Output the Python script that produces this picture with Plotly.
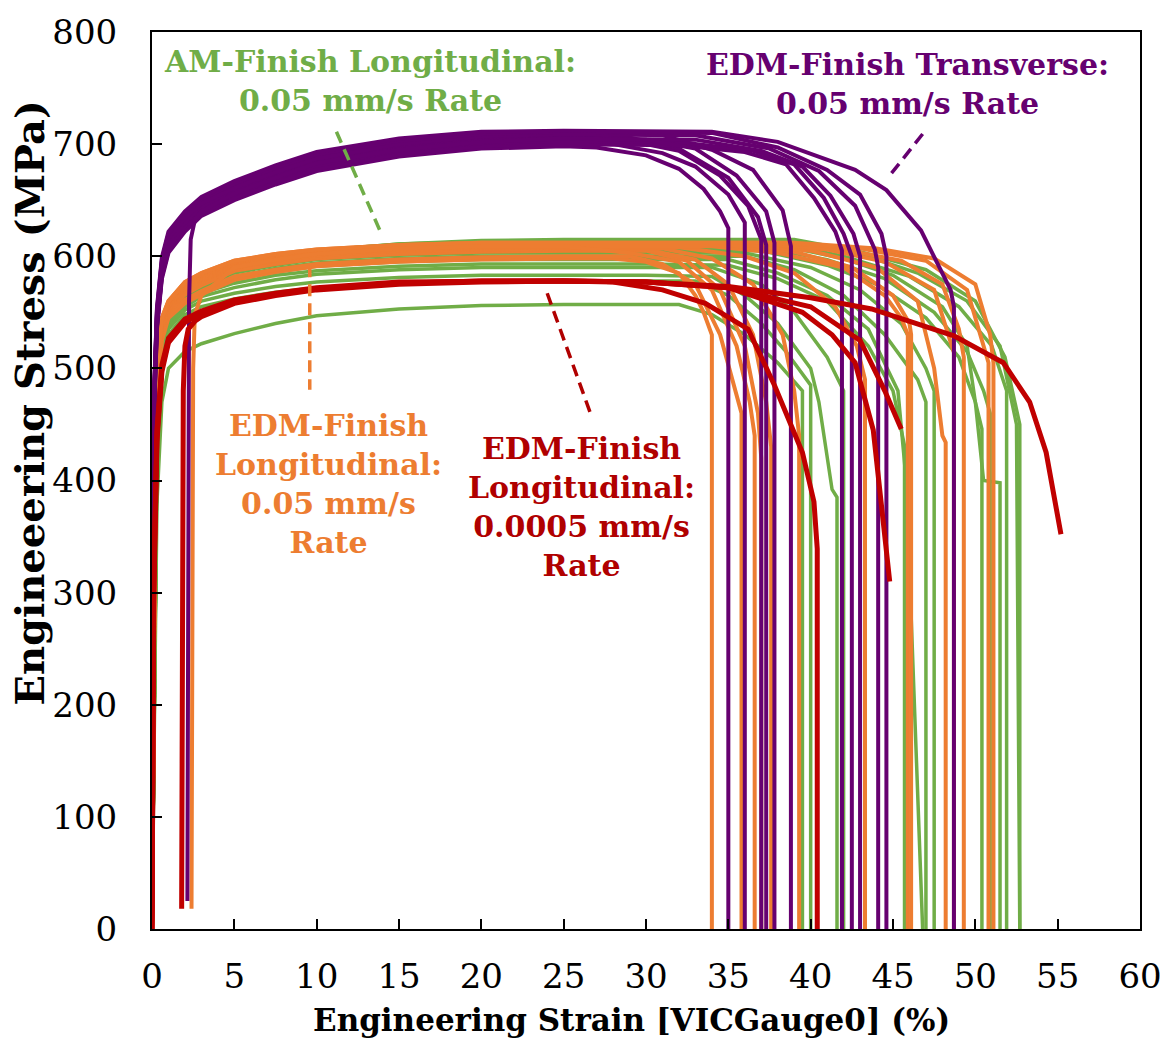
import plotly.graph_objects as go

# ---------------- data (strain %, stress MPa) ----------------
# AM-Finish Longitudinal, 0.05 mm/s (green)
green_rise_x = [0, 0.15, 0.3, 0.6, 1, 2, 3, 5, 7.5, 10, 15, 20, 25, 30]
green_rise_y = [
    [0, 200, 380, 470, 500, 515, 522, 531, 540, 547, 553, 556, 557, 557],
    [0, 230, 420, 500, 530, 548, 555, 562, 568, 572, 576, 578, 578, 578],
    [0, 230, 420, 505, 535, 552, 560, 567, 573, 577, 581, 583, 583, 583],
    [0, 240, 430, 510, 538, 555, 564, 572, 579, 584, 588, 590, 590, 590],
    [0, 240, 430, 510, 540, 558, 567, 576, 583, 587, 591, 593, 593, 593],
    [0, 240, 430, 512, 542, 560, 569, 579, 586, 591, 595, 597, 597, 597],
    [0, 245, 435, 515, 545, 563, 572, 582, 589, 594, 598, 600, 600, 600],
    [0, 245, 435, 515, 546, 565, 574, 585, 592, 597, 601, 603, 603, 603],
    [0, 245, 435, 515, 547, 566, 575, 587, 594, 599, 603, 605, 605, 605],
    [0, 250, 440, 518, 548, 567, 577, 589, 596, 601, 606, 608, 608, 608],
    [0, 250, 440, 518, 549, 568, 578, 590, 597, 603, 608, 610, 610, 610],
    [0, 250, 440, 520, 550, 569, 579, 591, 598, 604, 609, 612, 612, 612],
    [0, 250, 440, 520, 550, 570, 580, 592, 599, 605, 611, 613, 614, 614],
    [0, 250, 440, 520, 550, 570, 580, 592, 600, 605, 611, 614, 615, 615],
]
green_tail_x = [
    [32, 34, 36, 38, 39.5, 39.5],
    [33, 35, 37, 38.5, 40, 40],
    [34, 36, 38, 40, 40.5, 41, 41.3, 41.6, 41.6],
    [34, 37, 39, 41, 42, 42],
    [35, 38, 41, 43.5, 45, 45.7, 45.7],
    [35, 38, 41, 43.5, 45.3, 45.8, 46.8],
    [36, 39, 42, 44.5, 46.5, 47, 47],
    [36, 40, 43, 45.5, 47, 47.5, 47.5],
    [37, 41, 44, 47, 49, 50, 50.4, 50.4],
    [37, 41, 44.5, 47.5, 49.5, 50.5, 50.9, 50.9],
    [38, 42, 45, 48, 49.5, 50, 50.5, 51.5, 51.5],
    [38, 42, 46, 49, 51, 51.9, 51.9],
    [38, 43, 46.5, 49.5, 51.5, 52.5, 52.7],
    [39, 43, 47, 50, 51.8, 52.7, 52.7],
]
green_tail_y = [
    [557, 548, 530, 505, 480, 0],
    [578, 565, 540, 515, 485, 0],
    [582, 565, 540, 500, 470, 420, 392, 385, 0],
    [590, 575, 550, 510, 480, 0],
    [592, 580, 560, 520, 480, 431, 0],
    [597, 585, 565, 535, 480, 400, 0],
    [600, 588, 565, 530, 490, 470, 0],
    [603, 590, 570, 540, 500, 480, 0],
    [605, 592, 575, 545, 510, 470, 446, 0],
    [608, 597, 580, 550, 515, 480, 460, 0],
    [610, 598, 583, 555, 520, 470, 400, 398, 0],
    [612, 600, 582, 555, 520, 480, 0],
    [614, 602, 585, 560, 520, 450, 0],
    [615, 604, 588, 560, 510, 450, 0],
]

# EDM-Finish Longitudinal, 0.05 mm/s (orange)
orange_rise_x = [0, 0.15, 0.3, 0.6, 1, 2, 3, 5, 7.5, 10, 15, 20, 25, 30]
orange_rise_y = [
    [0, 300, 470, 525, 545, 558, 566, 579, 586, 591, 595, 597, 598, 598],
    [0, 305, 475, 528, 547, 561, 569, 582, 588, 593, 597, 599, 600, 600],
    [0, 310, 480, 532, 550, 566, 574, 587, 593, 598, 602, 604, 605, 605],
    [0, 315, 485, 535, 552, 568, 576, 588, 594, 599, 603, 605, 606, 606],
    [0, 315, 485, 536, 553, 570, 578, 590, 596, 601, 605, 606, 607, 607],
    [0, 320, 490, 538, 555, 571, 579, 591, 597, 602, 606, 607, 608, 608],
    [0, 320, 490, 540, 556, 572, 580, 592, 598, 603, 607, 608, 609, 609],
    [0, 325, 495, 541, 557, 573, 581, 593, 599, 604, 608, 609, 610, 610],
    [0, 325, 495, 542, 558, 574, 582, 594, 600, 604, 608, 610, 610, 610],
    [0, 330, 498, 543, 559, 575, 583, 595, 601, 605, 609, 611, 611, 611],
    [0, 330, 498, 544, 559, 576, 584, 595, 601, 605, 609, 611, 611, 611],
    [0, 330, 500, 545, 560, 577, 585, 596, 602, 606, 610, 612, 612, 612],
    [0, 330, 500, 545, 560, 577, 585, 596, 602, 606, 610, 612, 612, 612],
]
orange_tail_x = [
    [28, 30, 32, 33, 33.5, 34, 34],
    [29, 31, 33, 34.5, 35.3, 35.8, 35.8],
    [30, 32.5, 34.5, 36, 36.8, 37, 37],
    [30, 33, 35, 36.5, 37.3, 37.6, 37.6],
    [31, 34, 36.5, 38.3, 39, 39.3, 39.3],
    [32, 36, 39, 41.5, 42.8, 43.3, 43.3],
    [34, 38, 42, 44.5, 45.5, 45.9, 45.9],
    [35, 39, 42.5, 45, 46, 46.1, 46.1],
    [36, 40, 44, 46.5, 47.5, 48, 48.2, 48.2],
    [37, 41, 44.5, 47.5, 48.5, 48.7, 48.7],
    [37, 42, 45.5, 48, 49, 49.3, 49.3],
    [38, 43, 47, 49.5, 50.5, 50.8, 50.8],
    [39, 44, 47.5, 50, 50.9, 51.1, 51.1],
]
orange_tail_y = [
    [598, 595, 585, 565, 550, 530, 0],
    [600, 593, 575, 530, 485, 460, 0],
    [605, 596, 570, 520, 460, 420, 0],
    [606, 597, 575, 530, 470, 430, 0],
    [607, 598, 575, 530, 480, 440, 0],
    [608, 600, 585, 555, 520, 490, 0],
    [609, 603, 590, 565, 545, 530, 0],
    [610, 604, 590, 565, 540, 530, 0],
    [610, 605, 590, 560, 500, 440, 434, 0],
    [611, 606, 595, 570, 525, 514, 0],
    [611, 606, 596, 575, 535, 510, 0],
    [612, 607, 596, 570, 520, 505, 0],
    [612, 607, 598, 575, 530, 505, 0],
]
orange_offset_x = [2.4, 2.45, 2.5, 2.6, 3, 5, 7.5, 10, 15, 20, 25, 29, 32, 34, 35.5, 36.3, 36.6, 36.6]
orange_offset_y = [18, 300, 500, 548, 565, 590, 597, 602, 607, 609, 609, 603, 595, 570, 520, 470, 440, 0]

# EDM-Finish Transverse, 0.05 mm/s (purple)
purple_rise_x = [0, 0.05, 0.15, 0.3, 0.6, 1, 2, 3, 5, 7.5, 10, 15, 20, 25]
purple_rise_y = [
    [0, 340, 470, 535, 580, 603, 622, 636, 650, 664, 676, 689, 696, 698],
    [0, 345, 474, 538, 583, 606, 625, 639, 653, 667, 679, 692, 699, 701],
    [0, 350, 478, 542, 587, 610, 629, 642, 656, 670, 682, 695, 702, 704],
    [0, 355, 482, 546, 591, 614, 632, 645, 659, 673, 685, 698, 705, 707],
    [0, 360, 486, 550, 595, 618, 636, 649, 663, 677, 689, 701, 708, 710],
    [0, 340, 472, 537, 582, 605, 624, 638, 652, 666, 678, 691, 698, 700],
    [0, 348, 476, 540, 585, 608, 627, 641, 655, 669, 681, 694, 701, 703],
    [0, 352, 480, 544, 589, 612, 630, 644, 658, 671, 684, 696, 703, 705],
    [0, 358, 484, 548, 593, 616, 634, 647, 661, 675, 687, 700, 707, 709],
    [0, 362, 488, 552, 597, 620, 638, 651, 665, 679, 691, 703, 709, 711],
    [0, 365, 490, 554, 599, 622, 640, 653, 667, 681, 693, 705, 711, 712],
]
purple_tail_x = [
    [27, 30, 32, 33.5, 34.5, 35, 35],
    [28, 31, 33, 35, 36, 36],
    [29, 32, 34.5, 36.2, 37, 37],
    [29, 32, 35, 36.8, 37.3, 37.3],
    [31, 34, 36.5, 38.3, 38.8, 38.8],
    [32, 36, 38.5, 40.2, 41.5, 41.9, 41.9],
    [32, 36.5, 39, 40.8, 42, 42.5, 42.5],
    [33, 37, 39.5, 41.2, 42.6, 43, 43],
    [33, 37.5, 40.5, 42.7, 43.9, 44.1, 44.1],
    [34, 38, 41, 43, 44.3, 44.6, 44.6],
    [34, 38, 42.7, 44.6, 46.7, 48.5, 48.7, 48.7],
]
purple_tail_y = [
    [697, 690, 678, 660, 640, 625, 0],
    [700, 692, 680, 655, 630, 0],
    [703, 694, 672, 645, 615, 0],
    [706, 696, 670, 635, 610, 0],
    [708, 695, 677, 641, 609, 0],
    [699, 693, 682, 652, 622, 605, 0],
    [702, 694, 682, 652, 620, 600, 0],
    [704, 694, 680, 654, 620, 600, 0],
    [708, 696, 676, 645, 606, 590, 0],
    [710, 697, 677, 655, 620, 600, 0],
    [711, 702, 677, 659, 623, 570, 555, 0],
]
purple_offset_x = [2.15, 2.2, 2.25, 2.35, 2.6, 3, 5, 7.5, 10, 15, 20, 25, 30, 33, 35.5, 37.3, 37.8, 37.8]
purple_offset_y = [25, 300, 560, 615, 632, 640, 656, 670, 683, 695, 702, 705, 704, 696, 672, 640, 612, 0]

# EDM-Finish Longitudinal, 0.0005 mm/s (dark red)
red_rise_x = [0, 0.1, 0.3, 0.6, 1, 2, 3, 5, 7.5, 10, 15, 20, 25, 30]
red_rise_y = [
    [0, 300, 440, 500, 525, 543, 550, 560, 566, 571, 576, 578, 578, 577],
    [0, 290, 435, 497, 523, 541, 549, 559, 566, 571, 576, 578, 578, 577],
    [0, 310, 445, 503, 527, 544, 551, 561, 567, 572, 577, 578, 578, 577],
]
red_tail_x = [
    [35, 39.5, 41.3, 42.7, 43.8, 44.6, 44.8],
    [35, 40, 43, 44.5, 45.5],
    [35, 40, 43.7, 48.7, 51.7, 53.3, 54.3, 55.2],
]
red_tail_y = [
    [572, 550, 530, 505, 445, 336, 310],
    [572, 555, 525, 480, 446],
    [573, 563, 553, 529, 505, 470, 425, 352],
]
red_offset_x = [1.8, 1.85, 1.9, 2.0, 2.2, 2.6, 3, 5, 7.5, 10, 15, 20, 25, 28, 31, 33.6, 36.2, 37.8, 39.5, 40.2, 40.4, 40.4]
red_offset_y = [18, 300, 480, 520, 535, 542, 546, 558, 565, 570, 575, 577, 578, 577, 570, 558, 535, 485, 425, 381, 339, 0]

# axis ticks
x_ticks = [0, 5, 10, 15, 20, 25, 30, 35, 40, 45, 50, 55, 60]
y_ticks = [0, 100, 200, 300, 400, 500, 600, 700, 800]

# labels and their leader lines (strain, stress)
labels = [
    "AM-Finish Longitudinal:<br>0.05 mm/s Rate",
    "EDM-Finish Transverse:<br>0.05 mm/s Rate",
    "EDM-Finish<br>Longitudinal:<br>0.05 mm/s<br>Rate",
    "EDM-Finish<br>Longitudinal:<br>0.0005 mm/s<br>Rate",
]
label_pos = [(13.25, 756), (45.9, 754), (10.7, 397), (26.1, 376)]
leader_from = [(11.2, 711), (46.8, 709), (9.58, 592), (24.0, 567)]
leader_to = [(13.9, 621), (44.8, 672), (9.58, 481), (26.6, 461)]

# ---------------- styling ----------------
GREEN = "#70AD47"
ORANGE = "#ED7D31"
PURPLE = "#660070"
RED = "#C00000"
label_colors = [GREEN, PURPLE, ORANGE, "#B00000"]
FONT = "DejaVu Serif"


def build(rise_x, rise_y, tail_x, tail_y):
    xs = [v for v in rise_x if v < tail_x[0]]
    ys = rise_y[:len(xs)]
    return xs + tail_x, ys + tail_y


fig = go.Figure()


def add(xs, ys, color, width):
    fig.add_trace(go.Scatter(x=xs, y=ys, mode="lines",
                             line=dict(color=color, width=width),
                             showlegend=False, hoverinfo="skip"))


for ry, tx, ty in zip(green_rise_y, green_tail_x, green_tail_y):
    add(*build(green_rise_x, ry, tx, ty), GREEN, 3.5)
for ry, tx, ty in zip(orange_rise_y, orange_tail_x, orange_tail_y):
    add(*build(orange_rise_x, ry, tx, ty), ORANGE, 4)
add(orange_offset_x, orange_offset_y, ORANGE, 4)
for ry, tx, ty in zip(purple_rise_y, purple_tail_x, purple_tail_y):
    add(*build(purple_rise_x, ry, tx, ty), PURPLE, 4)
add(purple_offset_x, purple_offset_y, PURPLE, 4)
for ry, tx, ty in zip(red_rise_y, red_tail_x, red_tail_y):
    add(*build(red_rise_x, ry, tx, ty), RED, 5)
add(red_offset_x, red_offset_y, RED, 5)

for (x0, y0), (x1, y1), c in zip(leader_from, leader_to, label_colors):
    fig.add_shape(type="line", xref="x", yref="y", x0=x0, y0=y0, x1=x1, y1=y1,
                  line=dict(color=c, width=3.5, dash="12px,7px"))

for txt, (lx, ly), c in zip(labels, label_pos, label_colors):
    fig.add_annotation(x=lx, y=ly, xref="x", yref="y", text="<b>" + txt + "</b>",
                       showarrow=False, xanchor="center", yanchor="middle",
                       align="center", font=dict(family=FONT, size=30, color=c))

# axis titles
fig.add_annotation(x=0.485, y=-0.101, xref="paper", yref="paper",
                   text="<b>Engineering Strain [VICGauge0] (%)</b>", showarrow=False,
                   xanchor="center", yanchor="middle",
                   font=dict(family=FONT, size=31, color="black"))
fig.add_annotation(x=-0.1245, y=0.587, xref="paper", yref="paper",
                   text="<b>Engineeering Stress (MPa)</b>", showarrow=False, textangle=-90,
                   xanchor="center", yanchor="middle",
                   font=dict(family=FONT, size=40, color="black"))

axis_common = dict(showgrid=False, zeroline=False, showline=True, linecolor="black",
                   linewidth=2, mirror=True, ticks="inside", ticklen=10, tickwidth=2,
                   tickcolor="black", tickfont=dict(family=FONT, size=34, color="black"))
fig.update_xaxes(range=[0, 60], tickvals=x_ticks, ticklabelstandoff=16, **axis_common)
fig.update_yaxes(range=[0, 800], tickvals=y_ticks, ticklabelstandoff=26, **axis_common)

fig.update_layout(width=1174, height=1048, margin=dict(l=152, r=26, t=28, b=119),
                  paper_bgcolor="white", plot_bgcolor="white")

fig.write_html("out.html")
